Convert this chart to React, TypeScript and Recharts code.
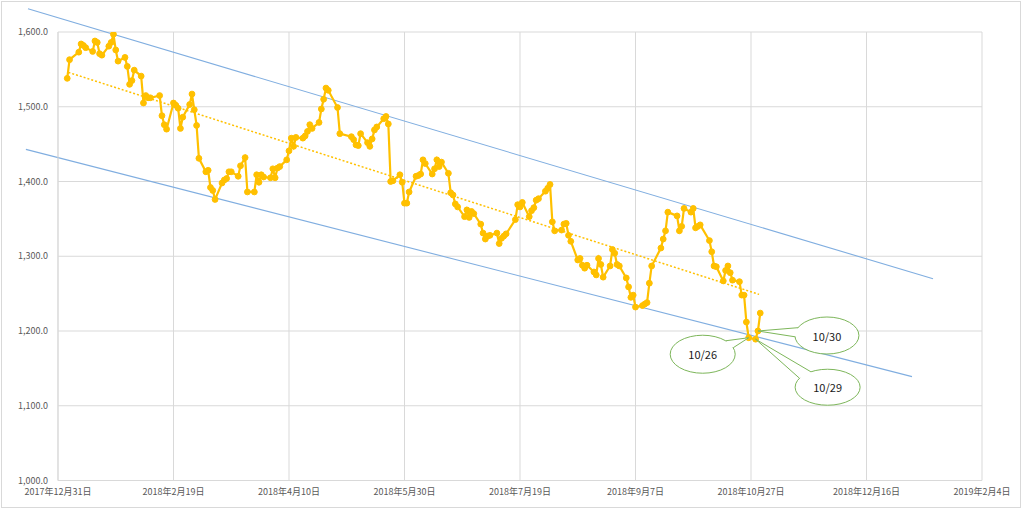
import React from 'react';
import { LineChart, Line, XAxis, YAxis, CartesianGrid, ReferenceLine, ReferenceDot } from 'recharts';

// Trading days (day of month) and values, month by month (2018)
const janDays = [4, 5, 9, 10, 11, 12, 15, 16, 17, 18, 19, 22, 23, 24, 25, 26, 29, 30, 31];
const janVals = [1538, 1563, 1573, 1584, 1582, 1579, 1574, 1588, 1586, 1571, 1569, 1581, 1586, 1597, 1576, 1561, 1566, 1554, 1530];
const febDays = [1, 2, 5, 6, 7, 8, 9, 13, 14, 15, 16, 19, 20, 21, 22, 23, 26, 27, 28];
const febVals = [1535, 1549, 1541, 1505, 1515, 1512, 1512, 1515, 1488, 1476, 1470, 1505, 1502, 1498, 1471, 1486, 1503, 1517, 1496];
const marDays = [1, 2, 5, 6, 7, 8, 9, 12, 13, 14, 15, 16, 19, 20, 22, 23, 26, 27, 28, 29, 30];
const marVals = [1475, 1431, 1413, 1415, 1392, 1388, 1376, 1398, 1402, 1404, 1413, 1413, 1407, 1421, 1432, 1386, 1386, 1409, 1399, 1409, 1406];
const aprDays = [2, 3, 4, 5, 6, 9, 10, 11, 12, 13, 16, 17, 18, 19, 20, 23, 24, 25, 26, 27];
const aprVals = [1405, 1417, 1405, 1418, 1420, 1429, 1441, 1458, 1447, 1459, 1458, 1461, 1467, 1476, 1471, 1479, 1497, 1510, 1525, 1522];
const mayDays = [1, 2, 7, 8, 9, 10, 11, 14, 15, 16, 17, 18, 21, 22, 23, 24, 25, 28, 29, 30, 31];
const mayVals = [1499, 1464, 1460, 1456, 1449, 1448, 1464, 1452, 1447, 1457, 1469, 1473, 1484, 1487, 1477, 1400, 1401, 1409, 1399, 1371, 1371];
const junDays = [1, 4, 5, 6, 7, 8, 11, 12, 13, 14, 15, 18, 19, 20, 21, 22, 25, 26, 27, 28, 29];
const junVals = [1386, 1407, 1408, 1410, 1429, 1424, 1410, 1417, 1429, 1420, 1426, 1411, 1385, 1382, 1370, 1366, 1353, 1362, 1352, 1360, 1357];
const julDays = [2, 3, 4, 5, 6, 9, 10, 11, 12, 13, 17, 18, 19, 20, 23, 24, 25, 26, 27, 30, 31];
const julVals = [1343, 1331, 1323, 1327, 1328, 1331, 1317, 1324, 1327, 1330, 1349, 1369, 1366, 1372, 1353, 1361, 1365, 1375, 1377, 1387, 1391];
const augDays = [1, 2, 3, 6, 7, 8, 9, 10, 13, 14, 15, 16, 17, 20, 21, 22, 23, 24, 27, 28, 29, 30, 31];
const augVals = [1396, 1346, 1334, 1335, 1343, 1344, 1328, 1320, 1295, 1297, 1288, 1284, 1288, 1279, 1275, 1297, 1289, 1272, 1287, 1309, 1304, 1289, 1287];
const sepDays = [3, 4, 5, 6, 7, 10, 11, 12, 13, 14, 18, 19, 20, 21, 25, 26, 27, 28];
const sepVals = [1271, 1259, 1245, 1248, 1232, 1234, 1236, 1238, 1264, 1287, 1311, 1323, 1334, 1359, 1354, 1334, 1340, 1364];
const octDays = [1, 2, 3, 4, 5, 9, 10, 11, 12, 15, 16, 17, 18, 19, 22, 23, 24, 25, 26, 29, 30, 31];
const octVals = [1359, 1364, 1338, 1340, 1342, 1321, 1306, 1287, 1286, 1267, 1281, 1287, 1278, 1268, 1266, 1248, 1248, 1212, 1191, 1189, 1200, 1224];

// days since 2017-12-31 at the start of each month
const monthOffsets = [0, 31, 59, 90, 120, 151, 181, 212, 243, 273];
const monthDays = [janDays, febDays, marDays, aprDays, mayDays, junDays, julDays, augDays, sepDays, octDays];
const monthVals = [janVals, febVals, marVals, aprVals, mayVals, junVals, julVals, augVals, sepVals, octVals];

// x-axis ticks (days since 2017-12-31) and labels
const xTicks = [0, 50, 100, 150, 200, 250, 300, 350, 400];
const xTickLabels = ['2017年12月31日', '2018年2月19日', '2018年4月10日', '2018年5月30日', '2018年7月19日', '2018年9月7日', '2018年10月27日', '2018年12月16日', '2019年2月4日'];
const yTicks = [1000, 1100, 1200, 1300, 1400, 1500, 1600];

// channel / trend lines (day, value) endpoints
const upperChannel = [{ day: -13, value: 1631 }, { day: 378.8, value: 1270 }];
const lowerChannel = [{ day: -13.9, value: 1443 }, { day: 369.7, value: 1139 }];
const trendLine = [{ day: 4.5, value: 1546 }, { day: 303.5, value: 1249 }];

// callouts
const calloutLabels = ['10/26', '10/30', '10/29'];
const calloutDays = [299, 303, 302];

const data = monthDays.flatMap((days, m) =>
  days.map((d, i) => ({ day: monthOffsets[m] + d, value: monthVals[m][i] }))
);

const calloutStyles = [
  { dx: -46, dy: 16.5, rx: 32.5, ry: 19, a1: 315, a2: 340 },
  { dx: 69, dy: 4.5, rx: 32, ry: 18.5, a1: 176, a2: 205 },
  { dx: 72, dy: 48, rx: 32.5, ry: 18, a1: 210, a2: 239 },
];

const GREEN = '#7DB65A';
const BLUE = '#80AEE0';

function Callout(props: any) {
  const { cx, cy, label, dx, dy, rx, ry, a1, a2 } = props;
  if (cx == null || cy == null) return null;
  const ex = cx + dx;
  const ey = cy + dy;
  const rad = (a: number) => (a * Math.PI) / 180;
  const p = (a: number, k: number) => [ex + rx * k * Math.cos(rad(a)), ey + ry * k * Math.sin(rad(a))];
  const b1 = p(a1, 1);
  const b2 = p(a2, 1);
  const c1 = p(a1, 0.9);
  const c2 = p(a2, 0.9);
  return (
    <g>
      <ellipse cx={ex} cy={ey} rx={rx} ry={ry} fill="#fff" stroke={GREEN} strokeWidth={1} />
      <polygon points={`${c1[0]},${c1[1]} ${c2[0]},${c2[1]} ${cx},${cy}`} fill="#fff" stroke="none" />
      <polygon points={`${b1[0]},${b1[1]} ${b2[0]},${b2[1]} ${cx},${cy}`} fill="#fff" stroke="none" />
      <line x1={b1[0]} y1={b1[1]} x2={cx} y2={cy} stroke={GREEN} strokeWidth={1} />
      <line x1={b2[0]} y1={b2[1]} x2={cx} y2={cy} stroke={GREEN} strokeWidth={1} />
      <text x={ex} y={ey} textAnchor="middle" dominantBaseline="central" fontSize={11}
        fontFamily="'Noto Sans CJK JP', 'Noto Sans', sans-serif" fill="#1a1a1a">{label}</text>
    </g>
  );
}

const fmtY = (v: number) => v.toLocaleString('en-US', { minimumFractionDigits: 1, maximumFractionDigits: 1 });
const fmtX = (v: number) => xTickLabels[xTicks.indexOf(v)] ?? '';

const tickStyle = { fontSize: 9, fill: '#595959', fontFamily: "'Noto Sans CJK JP', sans-serif" };

export default function App() {
  return (
    <div style={{ position: 'absolute', left: 0, top: 0, width: 1024, height: 509, background: '#fff' }}>
      <LineChart width={1024} height={509} data={data} margin={{ top: 32, right: 42, bottom: 6.5, left: 8 }}>
        <CartesianGrid stroke="#d9d9d9" strokeWidth={1} />
        <XAxis
          dataKey="day"
          type="number"
          domain={[0, 400]}
          ticks={xTicks}
          interval={0}
          tickFormatter={fmtX}
          tickLine={false}
          axisLine={{ stroke: '#d9d9d9' }}
          tick={tickStyle}
          tickMargin={2}
          height={22}
          allowDataOverflow
        />
        <YAxis
          dataKey="value"
          type="number"
          domain={[1000, 1600]}
          ticks={yTicks}
          interval={0}
          tickFormatter={fmtY}
          tickLine={false}
          axisLine={{ stroke: '#d9d9d9' }}
          tick={tickStyle}
          tickMargin={4}
          width={50}
          allowDataOverflow
        />
        <ReferenceLine
          segment={[{ x: upperChannel[0].day, y: upperChannel[0].value }, { x: upperChannel[1].day, y: upperChannel[1].value }]}
          ifOverflow="visible"
          stroke={BLUE}
          strokeWidth={1.1}
        />
        <ReferenceLine
          segment={[{ x: lowerChannel[0].day, y: lowerChannel[0].value }, { x: lowerChannel[1].day, y: lowerChannel[1].value }]}
          ifOverflow="visible"
          stroke={BLUE}
          strokeWidth={1.1}
        />
        <ReferenceLine
          segment={[{ x: trendLine[0].day, y: trendLine[0].value }, { x: trendLine[1].day, y: trendLine[1].value }]}
          ifOverflow="visible"
          stroke="#FFC000"
          strokeWidth={1.5}
          strokeDasharray="2 2"
        />
        <Line
          type="linear"
          dataKey="value"
          stroke="#FFC000"
          strokeWidth={2.2}
          dot={{ r: 2.9, fill: '#FFC000', stroke: '#FFC000', strokeWidth: 1 }}
          activeDot={false}
          isAnimationActive={false}
        />
        {calloutLabels.map((lab, i) => {
          const pt = data.find((d) => d.day === calloutDays[i]);
          return (
            <ReferenceDot
              key={lab}
              x={calloutDays[i]}
              y={pt ? pt.value : 0}
              ifOverflow="visible"
              shape={(p: any) => <Callout {...p} label={lab} {...calloutStyles[i]} />}
            />
          );
        })}
      </LineChart>
      <div style={{ position: 'absolute', left: 1, top: 1, width: 1020, height: 507, boxSizing: 'border-box', border: '1px solid #d9d9d9', pointerEvents: 'none' }} />
    </div>
  );
}
